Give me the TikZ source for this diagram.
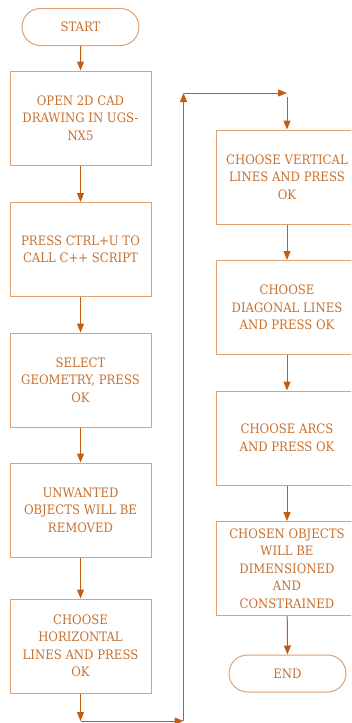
\documentclass[tikz,border=0pt]{standalone}
\usepackage{fontspec}
\setmainfont{DejaVu Serif Condensed}
\usetikzlibrary{arrows.meta,shapes.misc}
\definecolor{lineC}{HTML}{C55A11}
\definecolor{boxC}{HTML}{E0A070}
\definecolor{txtC}{HTML}{C8702E}
\begin{document}
\begin{tikzpicture}[x=1pt,y=-1pt,
  every node/.style={font=\fontsize{13}{17.5}\selectfont, text=txtC},
  stepbox/.style={draw=boxC, line width=1pt, minimum width=141pt, minimum height=94pt, align=center, inner sep=0pt},
  term/.style={draw=boxC, line width=1pt, rounded rectangle, minimum width=117pt, minimum height=37pt, inner sep=0pt},
  arr/.style={draw=lineC, line width=1pt, -{Triangle[length=9pt,width=7pt]}},
  ln/.style={draw=lineC, line width=1pt}]
\useasboundingbox (0,0) rectangle (351,723);
\clip (0,0) rectangle (351,723);
\node[term] (start) at (80.5,27) {START};
\node[stepbox] (b1) at (80.5,118) {OPEN 2D CAD\\DRAWING IN UGS-\\NX5};
\node[stepbox] (b2) at (80.5,249.5) {PRESS CTRL+U TO\\CALL C++ SCRIPT};
\node[stepbox] (b3) at (80.5,380) {SELECT\\GEOMETRY, PRESS\\OK};
\node[stepbox] (b4) at (80.5,510) {UNWANTED\\OBJECTS WILL BE\\REMOVED};
\node[stepbox] (b5) at (80.5,646) {CHOOSE\\HORIZONTAL\\LINES AND PRESS\\OK};
\node[stepbox] (r1) at (287,177) {CHOOSE VERTICAL\\LINES AND PRESS\\OK};
\node[stepbox] (r2) at (287,307.5) {CHOOSE\\DIAGONAL LINES\\AND PRESS OK};
\node[stepbox] (r3) at (287,438) {CHOOSE ARCS\\AND PRESS OK};
\node[stepbox] (r4) at (287,568.5) {CHOSEN OBJECTS\\WILL BE\\DIMENSIONED\\AND\\CONSTRAINED};
\node[term] (end) at (287.5,673.5) {END};
\coordinate (c1) at (80.5,721);
\coordinate (c2) at (183.5,721);
\coordinate (c3) at (183.5,93);
\coordinate (c4) at (287,93);
\coordinate (c5) at (287,97);
\draw[arr] (start) -- (b1);
\draw[arr] (b1) -- (b2);
\draw[arr] (b2) -- (b3);
\draw[arr] (b3) -- (b4);
\draw[arr] (b4) -- (b5);
\draw[arr] (b5) -- (c1);
\draw[arr] (c1) -- (c2);
\draw[arr] (c2) -- (c3);
\draw[arr] (c3) -- (c4);
\draw[arr] (c5) -- (r1);
\draw[arr] (r1) -- (r2);
\draw[arr] (r2) -- (r3);
\draw[arr] (r3) -- (r4);
\draw[arr] (r4) -- (end);
\end{tikzpicture}
\end{document}
